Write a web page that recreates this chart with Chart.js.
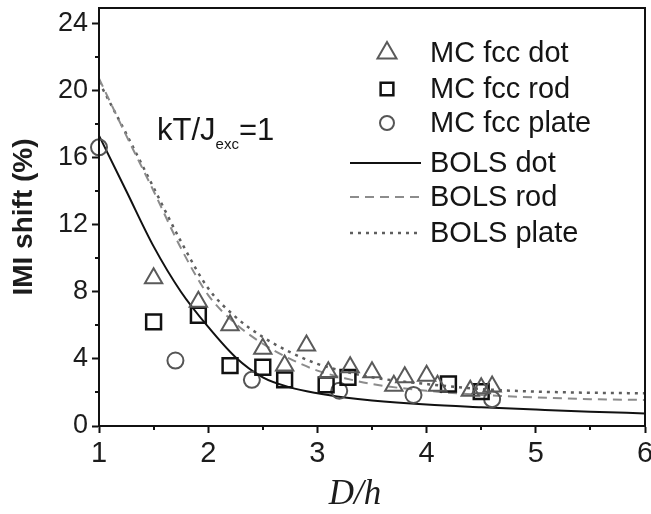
<!DOCTYPE html>
<html>
<head>
<meta charset="utf-8">
<script src="https://cdn.jsdelivr.net/npm/chart.js@4.4.1/dist/chart.umd.min.js"></script>
<style>
  html, body { margin: 0; padding: 0; background: #fff; }
  #wrap { width: 651px; height: 514px; }
</style>
</head>
<body>
<div id="wrap"><canvas id="c" width="651" height="514"></canvas></div>
<script>
// Monte Carlo results (D/h, IMI shift %)
const dotX   = [1.5, 1.91, 2.2, 2.5, 2.7, 2.9, 3.1, 3.3, 3.5, 3.7, 3.8, 4.0, 4.1, 4.4, 4.5, 4.6];
const dotY   = [8.8, 7.4, 6.0, 4.6, 3.6, 4.8, 3.2, 3.5, 3.2, 2.4, 2.9, 3.0, 2.4, 2.1, 2.25, 2.35];
const rodX   = [1.5, 1.91, 2.2, 2.5, 2.7, 3.08, 3.28, 4.2, 4.5];
const rodY   = [6.2, 6.6, 3.6, 3.5, 2.75, 2.45, 2.9, 2.5, 2.05];
const plateX = [1.0, 1.7, 2.4, 3.2, 3.88, 4.6];
const plateY = [16.6, 3.9, 2.75, 2.1, 1.85, 1.6];

// BOLS model curves
const bolsX      = [1.0, 1.25, 1.5, 1.75, 2.0, 2.25, 2.5, 2.75, 3.0, 3.25, 3.5, 4.0, 4.5, 5.0, 5.5, 6.0];
const bolsDotY   = [17.3, 14.0, 10.7, 8.0, 5.9, 4.1, 2.9, 2.3, 1.95, 1.7, 1.52, 1.28, 1.12, 0.98, 0.85, 0.75];
const bolsRodY   = [20.7, 17.3, 14.0, 10.6, 7.8, 6.1, 4.9, 4.0, 3.3, 2.85, 2.5, 2.1, 1.85, 1.7, 1.6, 1.55];
const bolsPlateY = [20.5, 17.4, 14.2, 11.0, 8.2, 6.5, 5.3, 4.4, 3.7, 3.25, 2.9, 2.5, 2.2, 2.05, 1.98, 1.95];

// Axis ticks
const xTicks = [1, 2, 3, 4, 5, 6];
const xMinor = [1.5, 2.5, 3.5, 4.5, 5.5];
const yTicks = [0, 4, 8, 12, 16, 20, 24];
const yMinor = [2, 6, 10, 14, 18, 22];

const seriesNames = ['MC fcc dot', 'MC fcc rod', 'MC fcc plate', 'BOLS dot', 'BOLS rod', 'BOLS plate'];
const xTitle = 'D/h';

const pts = (xs, ys) => xs.map((x, i) => ({ x: x, y: ys[i] }));

const SANS = '"Liberation Sans", Arial, Helvetica, sans-serif';

const markerSet = (label, data, style, color, radius, width) => ({
  label: label, data: data, showLine: false, clip: false,
  pointStyle: style, pointRadius: radius, pointHoverRadius: radius,
  pointBorderColor: color, pointBackgroundColor: 'rgba(0,0,0,0)',
  pointBorderWidth: width, borderColor: color, backgroundColor: 'rgba(0,0,0,0)'
});

const curveSet = (label, data, color, width, dash) => ({
  label: label, data: data, showLine: true, pointRadius: 0, pointHoverRadius: 0,
  borderColor: color, borderWidth: width, borderDash: dash,
  cubicInterpolationMode: 'monotone', fill: false
});

// minor tick marks and the closed frame around the plot
const framePlugin = {
  id: 'frame',
  afterDatasetsDraw(chart) {
    const ctx = chart.ctx, a = chart.chartArea;
    const xs = chart.scales.x, ys = chart.scales.y;
    ctx.save();
    ctx.strokeStyle = '#111';
    ctx.lineWidth = 2;
    ctx.strokeRect(a.left, a.top, a.right - a.left, a.bottom - a.top);
    ctx.beginPath();
    xMinor.forEach(v => {
      const px = Math.round(xs.getPixelForValue(v));
      ctx.moveTo(px, a.bottom); ctx.lineTo(px, a.bottom + 4);
    });
    yMinor.forEach(v => {
      const py = Math.round(ys.getPixelForValue(v));
      ctx.moveTo(a.left, py); ctx.lineTo(a.left - 4, py);
    });
    ctx.stroke();
    ctx.restore();
  }
};

// legend block, the temperature note and the italic x-axis title
const notePlugin = {
  id: 'note',
  afterDraw(chart) {
    const ctx = chart.ctx;
    const a = chart.chartArea;
    const rows = [53, 89, 123, 163, 197, 233];
    const symX = 387, lineX0 = 350, lineX1 = 421, textX = 430;
    const legendSymbol = [11, 9, 7];
    ctx.save();
    chart.data.datasets.forEach((ds, i) => {
      const y = rows[i];
      if (ds.showLine) {
        ctx.save();
        ctx.strokeStyle = ds.borderColor;
        ctx.lineWidth = ds.borderWidth;
        ctx.setLineDash(ds.borderDash || []);
        ctx.beginPath();
        ctx.moveTo(lineX0, y); ctx.lineTo(lineX1, y);
        ctx.stroke();
        ctx.restore();
      } else {
        ctx.strokeStyle = ds.pointBorderColor;
        ctx.fillStyle = 'rgba(0,0,0,0)';
        ctx.lineWidth = ds.pointBorderWidth;
        Chart.helpers.drawPoint(ctx, { pointStyle: ds.pointStyle, radius: legendSymbol[i], rotation: 0, borderWidth: ds.pointBorderWidth }, symX, y);
      }
      ctx.fillStyle = '#151515';
      ctx.font = '29px ' + SANS;
      ctx.textBaseline = 'middle';
      ctx.textAlign = 'left';
      ctx.fillText(ds.label, textX, y + 1);
    });

    // kT/J_exc = 1
    ctx.fillStyle = '#151515';
    ctx.textBaseline = 'alphabetic';
    ctx.font = '31px ' + SANS;
    let x = 157;
    const base = 140;
    ctx.fillText('kT/J', x, base);
    x += ctx.measureText('kT/J').width;
    ctx.font = '15px ' + SANS;
    ctx.fillText('exc', x, base + 9);
    x += ctx.measureText('exc').width;
    ctx.font = '31px ' + SANS;
    ctx.fillText('=1', x, base);

    // x-axis title, set slightly left of the plot centre
    ctx.fillStyle = '#1c1c1c';
    ctx.font = 'italic 35px "Liberation Serif", "Times New Roman", serif';
    ctx.textAlign = 'center';
    ctx.fillText(xTitle, (a.left + a.right) / 2 - 17, 504);
    ctx.restore();
  }
};

new Chart(document.getElementById('c'), {
  type: 'scatter',
  data: {
    datasets: [
      markerSet(seriesNames[0], pts(dotX, dotY), 'triangle', '#5a5a5a', 10, 2),
      markerSet(seriesNames[1], pts(rodX, rodY), 'rect', '#111111', 10.5, 2.5),
      markerSet(seriesNames[2], pts(plateX, plateY), 'circle', '#555555', 8, 2),
      curveSet(seriesNames[3], pts(bolsX, bolsDotY), '#111111', 2, []),
      curveSet(seriesNames[4], pts(bolsX, bolsRodY), '#8c8c8c', 2, [9, 6]),
      curveSet(seriesNames[5], pts(bolsX, bolsPlateY), '#5e5e5e', 2.5, [3, 5])
    ]
  },
  options: {
    responsive: false,
    animation: false,
    events: [],
    layout: { autoPadding: false, padding: { left: 0, right: 6, top: 8, bottom: 0 } },
    plugins: { legend: { display: false }, tooltip: { enabled: false } },
    scales: {
      x: {
        type: 'linear', min: 1, max: 6,
        afterBuildTicks: s => { s.ticks = xTicks.map(v => ({ value: v })); },
        afterFit: s => { s.height = 88; s.paddingLeft = 0; s.paddingRight = 0; },
        grid: { display: true, drawOnChartArea: false, drawTicks: true, tickLength: 7, tickWidth: 2, tickColor: '#111' },
        border: { display: true, color: '#111', width: 2 },
        ticks: { color: '#1c1c1c', padding: 4, font: { family: SANS, size: 29 }, maxRotation: 0 },
        title: { display: false }
      },
      y: {
        type: 'linear', min: 0, max: 24.9,
        afterBuildTicks: s => { s.ticks = yTicks.map(v => ({ value: v })); },
        afterFit: s => { s.width = 99; s.paddingTop = 0; s.paddingBottom = 0; },
        grid: { display: true, drawOnChartArea: false, drawTicks: true, tickLength: 7, tickWidth: 2, tickColor: '#111' },
        border: { display: true, color: '#111', width: 2 },
        ticks: { color: '#1c1c1c', padding: 4, font: { family: SANS, size: 27 } },
        title: { display: true, text: 'IMI shift (%)', color: '#1c1c1c', padding: { top: 7, bottom: 0 },
                 font: { family: SANS, size: 28, weight: 'bold' } }
      }
    }
  },
  plugins: [framePlugin, notePlugin]
});
</script>
</body>
</html>
